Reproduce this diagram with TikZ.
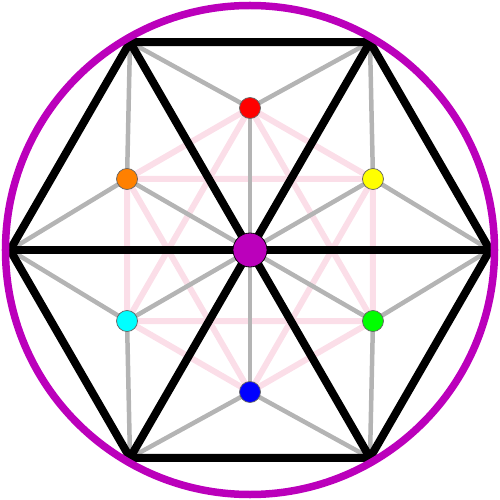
\documentclass[tikz,border=0pt]{standalone}
\usetikzlibrary{shapes.geometric}

\definecolor{ringpurple}{RGB}{187,0,187}
\definecolor{softpink}{RGB}{251,222,232}
\definecolor{spokegray}{RGB}{180,180,180}
\definecolor{dotcyan}{RGB}{0,255,255}
\definecolor{dotgreen}{RGB}{0,255,0}
\definecolor{dotorange}{RGB}{255,128,0}
\definecolor{dotyellow}{RGB}{255,255,0}
\definecolor{dotred}{RGB}{255,0,0}
\definecolor{dotblue}{RGB}{0,0,255}

\begin{document}
\begin{tikzpicture}[x=0.2mm,y=0.2mm]
\tikzstyle{hexline} = [draw=black, line width=1.6mm, line join=round, line cap=round]
\tikzstyle{spoke} = [draw=spokegray, line width=0.9mm]
\tikzstyle{starline} = [draw=softpink, line width=1.2mm]
\tikzstyle{ring} = [draw=ringpurple, line width=1.5mm]
\tikzstyle{dot} = [circle, draw=black!60, line width=0.15mm, minimum size=4.2mm, inner sep=0pt]
\tikzstyle{hub} = [circle, draw=black, line width=0.15mm, fill=ringpurple, minimum size=6.8mm, inner sep=0pt]

\path[use as bounding box] (-250,-250) rectangle (250,250);

% hexagon corners
\coordinate (c) at (0,0);
\coordinate (v0) at (0:240);
\coordinate (v1) at (60:240);
\coordinate (v2) at (120:240);
\coordinate (v3) at (180:240);
\coordinate (v4) at (240:240);
\coordinate (v5) at (300:240);
% triangle centres
\coordinate (pyellow) at (30:142);
\coordinate (pred) at (90:142);
\coordinate (porange) at (150:142);
\coordinate (pcyan) at (210:142);
\coordinate (pblue) at (270:142);
\coordinate (pgreen) at (330:142);

% pink hexagon and star
\path[starline] (pred) -- (pyellow) -- (pgreen) -- (pblue) -- (pcyan) -- (porange) -- cycle;
\path[starline] (pred) -- (pgreen) -- (pcyan) -- cycle;
\path[starline] (pblue) -- (porange) -- (pyellow) -- cycle;

% gray spokes
\path[spoke] (pred) -- (v1);
\path[spoke] (pred) -- (v2);
\path[spoke] (pred) -- (c);
\path[spoke] (porange) -- (v2);
\path[spoke] (porange) -- (v3);
\path[spoke] (porange) -- (c);
\path[spoke] (pcyan) -- (v3);
\path[spoke] (pcyan) -- (v4);
\path[spoke] (pcyan) -- (c);
\path[spoke] (pblue) -- (v4);
\path[spoke] (pblue) -- (v5);
\path[spoke] (pblue) -- (c);
\path[spoke] (pgreen) -- (v5);
\path[spoke] (pgreen) -- (v0);
\path[spoke] (pgreen) -- (c);
\path[spoke] (pyellow) -- (v0);
\path[spoke] (pyellow) -- (v1);
\path[spoke] (pyellow) -- (c);

% black hexagon and diagonals
\path[hexline] (v0) -- (v1) -- (v2) -- (v3) -- (v4) -- (v5) -- cycle;
\path[hexline] (v0) -- (v3);
\path[hexline] (v1) -- (v4);
\path[hexline] (v2) -- (v5);

% outer circle
\path[ring] (c) circle (244.5);

% dots
\node[dot, fill=dotred] (red) at (pred) {};
\node[dot, fill=dotorange] (orange) at (porange) {};
\node[dot, fill=dotcyan] (cyan) at (pcyan) {};
\node[dot, fill=dotblue] (blue) at (pblue) {};
\node[dot, fill=dotgreen] (green) at (pgreen) {};
\node[dot, fill=dotyellow] (yellow) at (pyellow) {};
\node[hub] (hub) at (c) {};
\end{tikzpicture}
\end{document}
